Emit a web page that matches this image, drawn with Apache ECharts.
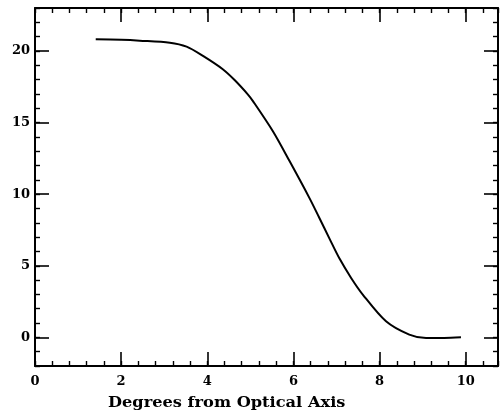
<!DOCTYPE html>
<html>
<head>
<meta charset="utf-8">
<script src="https://cdn.jsdelivr.net/npm/echarts@6/dist/echarts.min.js"></script>
<style>html,body{margin:0;padding:0;background:#fff}#c{width:500px;height:413px}</style>
</head>
<body>
<div id="c"></div>
<script>
var degrees = [1.41, 2.0, 2.43, 3.13, 3.52, 3.90, 4.36, 4.64, 4.94, 5.06, 5.52, 5.91, 6.37, 6.60, 6.84, 7.07, 7.34, 7.61, 8.15, 8.69, 9.08, 9.5, 9.89];
var values  = [20.82, 20.78, 20.72, 20.58, 20.30, 19.65, 18.72, 17.95, 16.97, 16.50, 14.41, 12.31, 9.74, 8.35, 6.88, 5.50, 4.15, 2.99, 1.12, 0.19, -0.05, -0.04, 0.0];
var xTickLabels = ['0', '2', '4', '6', '8', '10'];
var yTickLabels = ['0', '5', '10', '15', '20'];
var xTitle = 'Degrees from Optical Axis';

var FONT = 'DejaVu Serif';
var X_MIN = 0, X_MAX = 10.75, Y_MIN = -2, Y_MAX = 23;

function axisBase(extra) {
  var a = {
    type: 'value', splitLine: {show: false},
    axisLine: {show: true, onZero: false, lineStyle: {color: '#000', width: 2}},
    axisLabel: {show: false},
    axisTick: {show: true, inside: true, length: 14, lineStyle: {color: '#000', width: 1.6}}
  };
  for (var k in extra) a[k] = extra[k];
  return a;
}
var minorLine = {show: false, onZero: false};
var minorTick = {show: true, inside: true, length: 5, lineStyle: {color: '#000', width: 1.4}};

var labelStyle = {color: '#000', fontFamily: FONT, fontWeight: 'bold', fontSize: 13};

var xAxes = [
  axisBase({position: 'bottom', min: X_MIN, max: X_MAX, interval: 2,
    axisLabel: Object.assign({show: true, margin: 9, showMaxLabel: false,
      formatter: function (v) { var s = String(v); return xTickLabels.indexOf(s) >= 0 ? s : ''; }}, labelStyle)}),
  axisBase({position: 'bottom', min: X_MIN, max: X_MAX, interval: 0.4, axisLine: minorLine, axisTick: minorTick}),
  axisBase({position: 'top', min: X_MIN, max: X_MAX, interval: 2}),
  axisBase({position: 'top', min: X_MIN, max: X_MAX, interval: 0.4, axisLine: minorLine, axisTick: minorTick})
];

var yAxes = [
  axisBase({position: 'left', min: Y_MIN, max: Y_MAX, splitNumber: 5,
    axisLabel: Object.assign({show: true, margin: 5, showMinLabel: false, showMaxLabel: false,
      formatter: function (v) { var s = String(v); return yTickLabels.indexOf(s) >= 0 ? s : ''; }}, labelStyle)}),
  axisBase({position: 'left', min: Y_MIN, max: Y_MAX, interval: 1, axisLine: minorLine, axisTick: minorTick}),
  axisBase({position: 'right', min: Y_MIN, max: Y_MAX, splitNumber: 5}),
  axisBase({position: 'right', min: Y_MIN, max: Y_MAX, interval: 1, axisLine: minorLine, axisTick: minorTick})
];

var data = degrees.map(function (d, i) { return [d, values[i]]; });

var chart = echarts.init(document.getElementById('c'), null, {renderer: 'canvas'});
chart.setOption({
  animation: false,
  backgroundColor: '#fff',
  graphic: [{
    type: 'text', x: 108, y: 403, scaleX: 1.08,
    style: {text: xTitle, fill: '#000', font: 'bold 15px "DejaVu Serif"', verticalAlign: 'middle', align: 'left'}
  }],
  grid: {left: 35, right: 2, top: 8, bottom: 47, containLabel: false},
  xAxis: xAxes,
  yAxis: yAxes,
  series: [{
    type: 'line', xAxisIndex: 0, yAxisIndex: 0, data: data,
    smooth: 0.3, showSymbol: false, symbol: 'none',
    lineStyle: {color: '#000', width: 2}
  }]
});
</script>
</body>
</html>
